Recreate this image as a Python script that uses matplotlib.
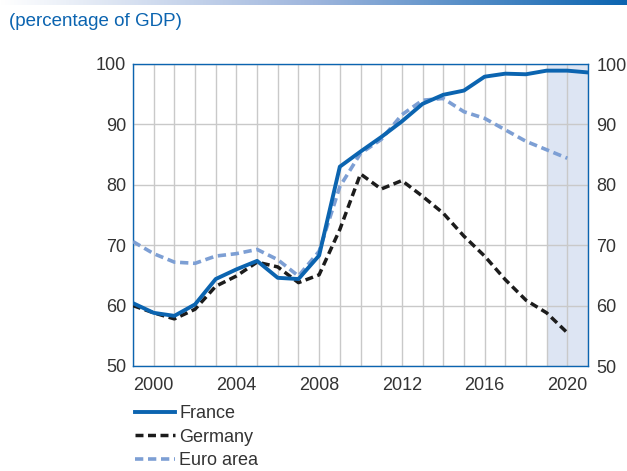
import numpy as np
import matplotlib.pyplot as plt
from matplotlib.colors import LinearSegmentedColormap
from matplotlib.lines import Line2D

# ===============================================
# Government debt: France, Germany, euro area
# ===============================================

years = list(range(1999, 2022))

france = [60.4, 58.8, 58.3, 60.2, 64.4, 66.0, 67.4, 64.6, 64.4, 68.3, 83.0,
          85.5, 87.9, 90.5, 93.4, 94.9, 95.6, 97.9, 98.4, 98.3, 98.9, 98.9, 98.6]
germany = [60.0, 58.8, 57.8, 59.4, 63.2, 64.9, 67.2, 66.4, 63.8, 65.1, 72.6,
           81.8, 79.3, 80.7, 78.1, 75.3, 71.5, 68.2, 64.3, 60.9, 58.8, 55.5]
euro_area = [70.6, 68.6, 67.2, 67.0, 68.2, 68.6, 69.3, 67.6, 64.9, 69.0, 79.7,
             85.2, 87.5, 91.6, 94.0, 94.3, 92.1, 91.0, 89.1, 87.2, 85.8, 84.4]

series_names = ["France", "Germany", "Euro area"]
xtick_years = [2000, 2004, 2008, 2012, 2016, 2020]
yticks = [50, 60, 70, 80, 90, 100]
shade_span = (2019, 2021)

BLUE = "#0b64b0"
BLACK = "#1c1c1c"
LIGHT = "#7d9fd4"
GRID = "#c9c9c9"
TEXT = "#333333"
DASH = (2.3, 1.3)

plt.rcParams["font.family"] = ["Liberation Sans", "DejaVu Sans"]

fig = plt.figure(figsize=(6.27, 4.71), dpi=100)

# gradient bar at the top
bar = fig.add_axes([0, 1 - 5 / 471, 1, 5 / 471])
cmap = LinearSegmentedColormap.from_list("bar", ["#ffffff", "#9fb6dd", "#0b64b0"])
bar.imshow(np.linspace(0, 1, 256)[None, :], aspect="auto", cmap=cmap)
bar.axis("off")

fig.text(9 / 627, 1 - 21 / 471, "(percentage of GDP)", color=BLUE,
         fontsize=13.5, va="center", ha="left")

ax = fig.add_axes([133 / 627, 1 - 366 / 471, 455 / 627, 302 / 471])

ax.axvspan(shade_span[0], shade_span[1], color="#dde5f3", zorder=0, lw=0)

ax.plot(years[:len(euro_area)], euro_area, color=LIGHT, lw=2.6,
        dashes=DASH, zorder=3)
ax.plot(years[:len(germany)], germany, color=BLACK, lw=2.5,
        dashes=DASH, zorder=4)
ax.plot(years, france, color=BLUE, lw=2.8, zorder=5)

ax.set_xlim(1999, 2021)
ax.set_ylim(50, 100)
ax.set_xticks(years, minor=True)
ax.set_xticks(xtick_years)
ax.set_yticks(yticks)
ax.grid(True, which="both", axis="x", color=GRID, lw=1, zorder=1)
ax.grid(True, axis="y", color=GRID, lw=1, zorder=1)
ax.set_axisbelow(True)
ax.tick_params(which="both", length=0, labelsize=13, colors=TEXT, pad=8)
ax.tick_params(axis="y", pad=5)

for s in ax.spines.values():
    s.set_color(BLUE)
    s.set_linewidth(1.0)

ax2 = ax.twinx()
ax2.set_ylim(ax.get_ylim())
ax2.set_yticks(yticks)
ax2.tick_params(length=0, labelsize=13, colors=TEXT, pad=6)
for s in ax2.spines.values():
    s.set_visible(False)

handles = [
    Line2D([], [], color=BLUE, lw=2.8),
    Line2D([], [], color=BLACK, lw=2.5, dashes=DASH),
    Line2D([], [], color=LIGHT, lw=2.6, dashes=DASH),
]
fig.legend(handles, series_names, loc="upper left",
           bbox_to_anchor=(135 / 627, 1 - 405 / 471), frameon=False,
           fontsize=13, handlelength=2.2, handletextpad=0.25,
           labelspacing=0.36, borderpad=0, borderaxespad=0, labelcolor=TEXT)

fig.savefig("out.png", dpi=100)
